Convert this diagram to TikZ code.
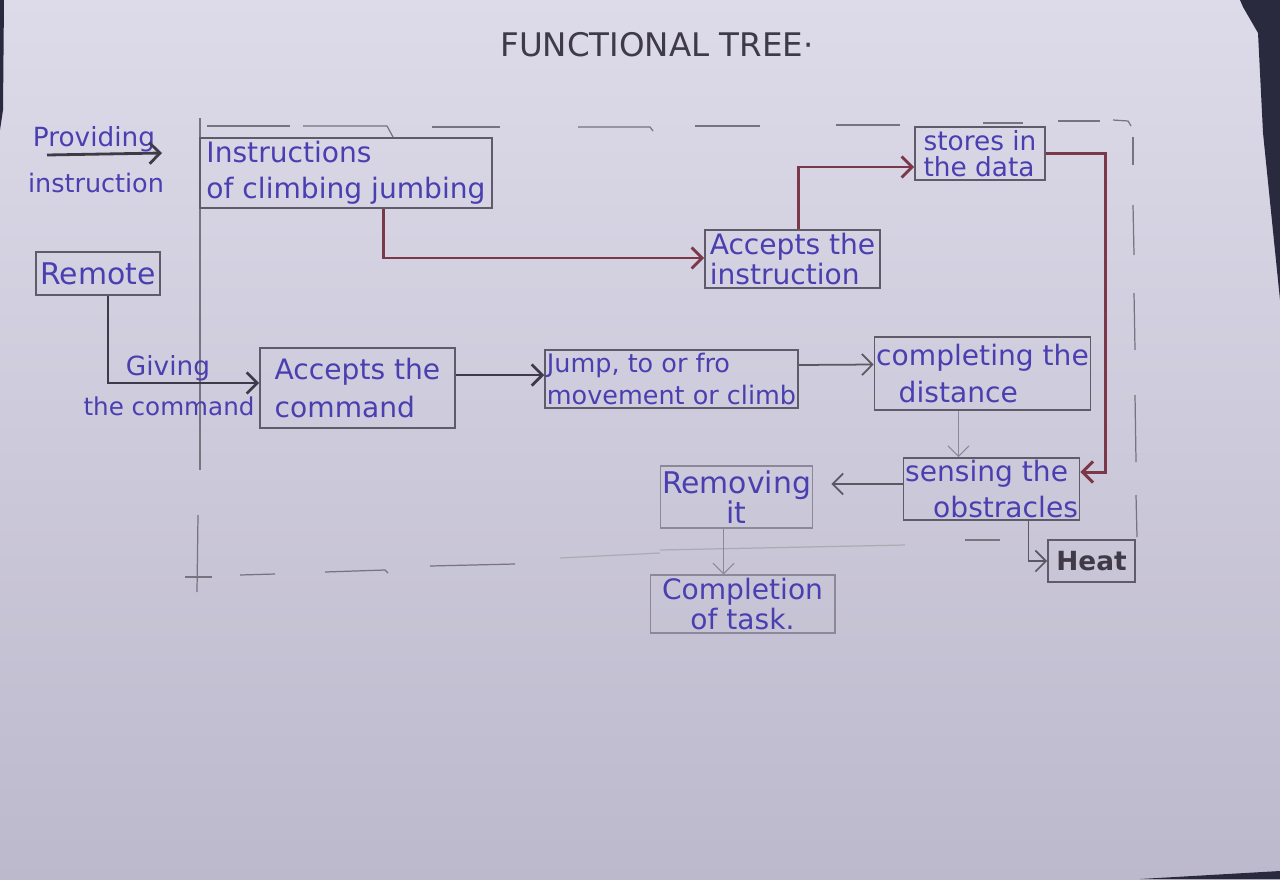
\documentclass[tikz,border=0pt]{standalone}
\usepackage{fontspec}
\setmainfont{DejaVu Sans}
\usetikzlibrary{arrows.meta,calc}
\definecolor{paperT}{HTML}{DDDBE9}
\definecolor{paperB}{HTML}{BDB9CD}
\definecolor{ink}{HTML}{4A3FB0}
\definecolor{boxline}{HTML}{5F5B6B}
\definecolor{lightline}{HTML}{8C889A}
\definecolor{maroon}{HTML}{7A3848}
\definecolor{darkink}{HTML}{3E3A48}
\definecolor{pencil}{HTML}{77737F}
\definecolor{shadowc}{HTML}{2A2A3E}
\begin{document}
\begin{tikzpicture}[x=0.02cm,y=-0.02cm,
  box/.style={draw=boxline, line width=0.9pt, inner sep=1pt, text=ink, align=left},
  lbox/.style={box, draw=lightline, line width=0.6pt, align=center},
  lbl/.style={text=ink, inner sep=0pt},
  head/.style={-{Straight Barb[length=6pt,width=12pt]}},
  mar/.style={draw=maroon, line width=1.7pt, head},
  darr/.style={draw=darkink, line width=1.6pt, head},
  garr/.style={draw=darkink!85, line width=1pt, head},
  thinarr/.style={draw=lightline, line width=0.6pt, head},
  frame/.style={draw=pencil, line width=0.7pt},
]
\useasboundingbox (0,0) rectangle (1280,879);
\shade[top color=paperT, bottom color=paperB] (0,0) rectangle (1280,879);
% dark table edges
\fill[shadowc] (1240,0) -- (1280,0) -- (1280,300) -- (1263,133) -- (1258,33) -- (1243,7) -- cycle;
\fill[shadowc] (1140,879) -- (1280,871) -- (1280,879) -- cycle;
\fill[shadowc] (0,0) -- (4,0) -- (3,110) -- (0,130) -- cycle;

% pencil frame
\draw[frame] (200,118) -- (200,470);
\draw[frame] (198,515) -- (197,592);
\draw[frame] (185,577) -- (212,577);
\draw[frame] (207,126) -- (290,126);
\draw[frame] (303,126) -- (387,126) -- (393,137);
\draw[frame] (432,127) -- (500,127);
\draw[frame] (578,127) -- (650,127) -- (653,131);
\draw[frame] (695,126) -- (760,126);
\draw[frame] (836,125) -- (900,125);
\draw[frame] (983,123) -- (1023,123);
\draw[frame] (1058,121) -- (1100,121);
\draw[frame] (1113,120) -- (1128,121) -- (1131,126);
\draw[frame] (1133,137) -- (1133,165);
\draw[frame] (1133,205) -- (1134,255);
\draw[frame] (1134,293) -- (1135,350);
\draw[frame] (1135,395) -- (1136,462);
\draw[frame] (1136,495) -- (1137,537);
\draw[frame] (240,575) -- (275,574);
\draw[frame] (325,572) -- (385,570) -- (388,573);
\draw[frame] (430,566) -- (515,564);
\draw[frame, draw=pencil!60] (560,558) -- (660,553);
\draw[frame, draw=pencil!60] (660,550) -- (905,545);
\draw[frame] (965,540) -- (1000,540);

% title
\node[text=darkink, font=\fontsize{18.5}{20}\selectfont, inner sep=0pt] (title) at (657,45) {FUNCTIONAL TREE·};

% left labels
\node[lbl, font=\fontsize{15}{18}\selectfont] (prov) at (94,139) {Providing};
\node[lbl, font=\fontsize{14.5}{18}\selectfont] (provi) at (96,183) {instruction};
\coordinate (pa) at (47,155);
\coordinate (pb) at (162,153);

% boxes
\node[box, font=\fontsize{16}{20.5}\selectfont, minimum width=5.84cm, minimum height=1.4cm] (instr) at (346,173) {Instructions\\of climbing jumbing};
\node[box, font=\fontsize{17}{20}\selectfont, minimum width=2.48cm, minimum height=0.86cm] (remote) at (98,273.5) {Remote};
\node[box, font=\fontsize{16}{21.5}\selectfont, minimum width=3.9cm, minimum height=1.6cm] (acccmd) at (357.5,388) {Accepts the\\command};
\node[box, font=\fontsize{14.5}{18.5}\selectfont, minimum width=5.06cm, minimum height=1.16cm] (jump) at (671.5,379) {Jump, to or fro\\movement or climb};
\node[box, font=\fontsize{16}{21.5}\selectfont, minimum width=4.3cm, minimum height=1.46cm] (compl) at (982.5,373.5) {completing the\\\hspace*{0.8em}distance};
\node[box, font=\fontsize{16}{21}\selectfont, minimum width=3.34cm, minimum height=1.24cm] (sens) at (991.5,489) {sensing the\\\hspace*{1em}obstracles};
\node[lbox, font=\fontsize{17}{17}\selectfont, minimum width=2.94cm, minimum height=1.24cm] (remov) at (736.5,497) {Removing\\it};
\node[lbox, font=\fontsize{16}{17}\selectfont, minimum width=3.7cm, minimum height=1.16cm] (complt) at (742.5,604) {Completion\\of task.};
\node[box, text=darkink, font=\bfseries\fontsize{15}{18}\selectfont, minimum width=1.74cm, minimum height=0.84cm] (heat) at (1091.5,561) {Heat};
\node[box, font=\fontsize{16}{17}\selectfont, minimum width=3.5cm, minimum height=1.16cm] (accins) at (792.5,259) {Accepts the\\instruction};
\node[box, font=\fontsize{15}{15}\selectfont, minimum width=2.6cm, minimum height=1.06cm] (stores) at (980,153.5) {stores in\\the data};

% connector labels
\node[lbl, font=\fontsize{15}{18}\selectfont] (giv) at (168,368) {Giving};
\node[lbl, font=\fontsize{14}{18}\selectfont] (givc) at (169,406) {the command};

% connectors
\draw[darr] (pa) -- (pb);
\draw[darr] ([xshift=0.2cm]remote.south) |- ($(acccmd.west)+(0,-5)$);
\draw[darr] ($(acccmd.east)+(0,-13)$) -- ($(jump.west)+(0,-4)$);
\draw[garr] ($(jump.east)+(0,-14)$) -- ($(compl.west)+(0,-9)$);
\draw[thinarr] ($(compl.south)+(-24,0)$) -- ($(sens.north)+(-33,0)$);
\draw[garr, shorten >=0.36cm] ($(sens.west)+(0,-5)$) coordinate (s1) -- (remov.east |- s1);
\draw[thinarr] ($(remov.south)+(-13,0)$) -- ($(complt.north)+(-19,0)$);
\draw[garr] ($(sens.south)+(37,0)$) |- (heat.west);
\draw[mar] ($(instr.south)+(37,0)$) |- ($(accins.west)+(0,-1)$);
\draw[mar] ($(accins.north)+(5.5,0)$) |- ($(stores.west)+(0,13.5)$);
\coordinate (rt) at (1105,472);
\draw[mar] (stores.east) -| (rt) -- ($(sens.east)+(0,-17)$);
\end{tikzpicture}
\end{document}
